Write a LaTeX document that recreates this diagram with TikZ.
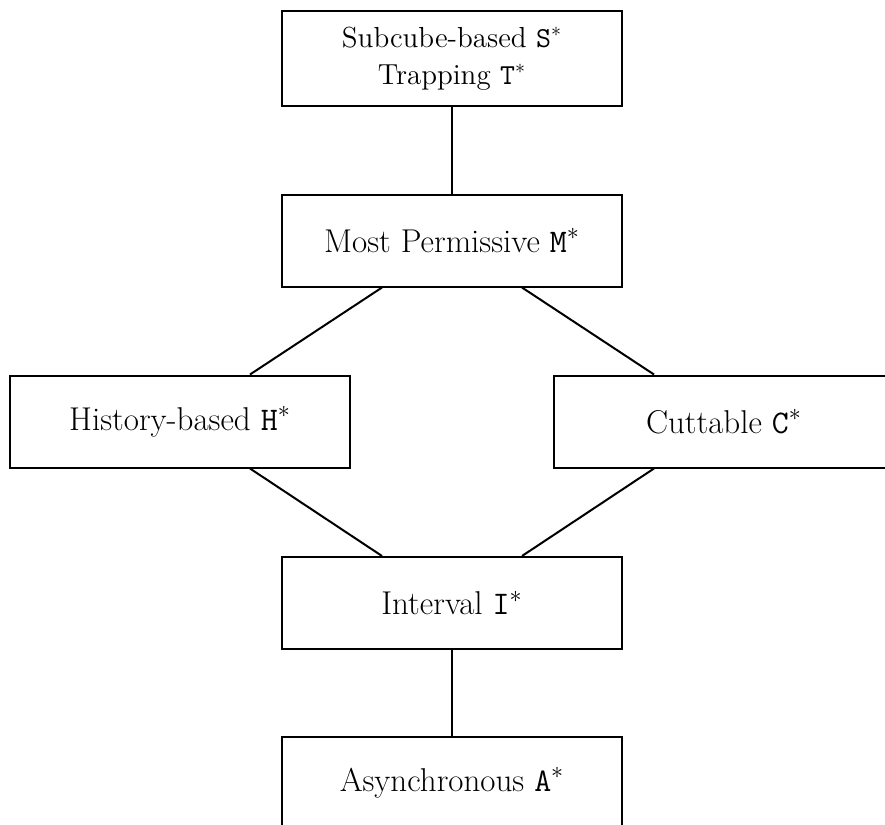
\documentclass[tikz,border=0pt]{standalone}
\usetikzlibrary{calc}
\begin{document}
\begin{tikzpicture}[x=0.5pt,y=-0.5pt,
  lat/.style={draw=black,line width=1pt,minimum width=170pt,minimum height=46pt,inner sep=0pt,align=center,font=\fontsize{16.5}{20}\selectfont},
  conn/.style={line width=1pt}]
\useasboundingbox (0,0) rectangle (885,825);
\clip (0,0) rectangle (885,825);
\node[lat,minimum height=47.5pt,font=\fontsize{14.5}{18.5}\selectfont] (S) at (452,58.5) {Subcube-based \texttt{S}$^*$\\Trapping \texttt{T}$^*$};
\node[lat] (M) at (452,240.5) {Most Permissive \texttt{M}$^*$};
\node[lat] (H) at (180,421.5) {History-based \texttt{H}$^*$};
\node[lat] (C) at (724,421.5) {Cuttable \texttt{C}$^*$};
\node[lat] (I) at (452,603) {Interval \texttt{I}$^*$};
\node[lat] (A) at (452,783) {Asynchronous \texttt{A}$^*$};
\draw[conn] (S.south) -- (M.north);
\draw[conn] ($(M.south)+(-70,0)$) -- ($(H.north)+(70,0)$);
\draw[conn] ($(M.south)+(70,0)$) -- ($(C.north)+(-70,0)$);
\draw[conn] ($(H.south)+(70,0)$) -- ($(I.north)+(-70,0)$);
\draw[conn] ($(C.south)+(-70,0)$) -- ($(I.north)+(70,0)$);
\draw[conn] (I.south) -- (A.north);
\end{tikzpicture}
\end{document}
